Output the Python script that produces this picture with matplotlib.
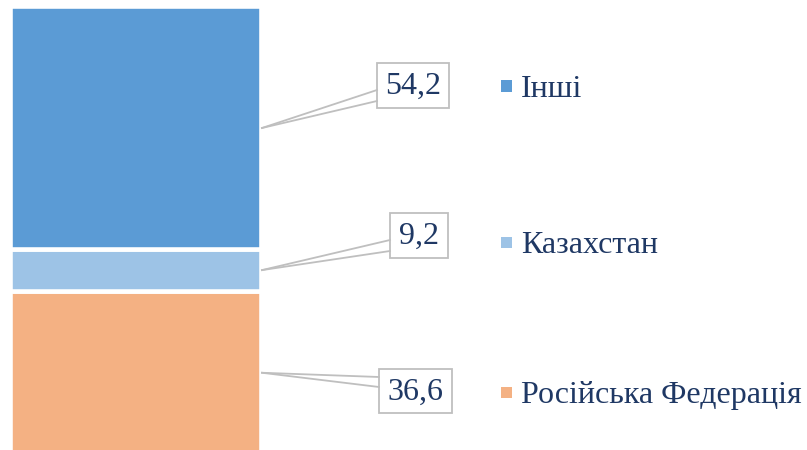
import matplotlib
matplotlib.use("Agg")
import matplotlib.pyplot as plt
from matplotlib.patches import Rectangle
from matplotlib.lines import Line2D

categories = ["Російська Федерація", "Казахстан", "Інші"]
values = [36.6, 9.2, 54.2]
labels = ["36,6", "9,2", "54,2"]
colors = ["#F4B183", "#9DC3E6", "#5B9BD5"]

W, H = 807, 450
fig = plt.figure(figsize=(W / 100, H / 100), dpi=100)
plt.rcParams['font.family'] = ['Liberation Serif', 'DejaVu Serif']
TXT = "#1F3864"
GRAY = "#BFBFBF"

def fx(x):
    return x / W

def fy(y):
    return 1 - y / H

# axes: bar spans pixel x 9.5..261, y 6.5 (100) .. 454.8 (0)
top_px, bot_px = 6.5, 454.8
ax = fig.add_axes([fx(9.5), fy(bot_px), (261 - 9.5) / W, (bot_px - top_px) / H])
ax.set_xlim(-0.5, 0.5)
ax.set_ylim(0, sum(values))
ax.axis("off")

bottom = 0
mids = []
for v, c in zip(values, colors):
    ax.bar(0, v, width=1.0, bottom=bottom, color=c, edgecolor="white",
           linewidth=3.3, clip_on=False)
    mids.append(bottom + v / 2)
    bottom += v

fig.canvas.draw()

# callout boxes in pixel coordinates: (left, right, top, bottom, y1, y2)
boxes = [(379, 452, 369, 413, 377, 387),
         (390, 448, 213, 258, 240, 251),
         (377, 449, 63, 108, 90, 101)]

inv = fig.transFigure.inverted()
for lab, mid, (l, r, t, b, y1, y2) in zip(labels, mids, boxes):
    disp = ax.transData.transform((0.5, mid))
    px_, py_ = inv.transform(disp)
    px_ += 1.0 / W
    for yy in (y1, y2):
        fig.add_artist(Line2D([px_, fx(l)], [py_, fy(yy)], color=GRAY,
                              lw=1.3, transform=fig.transFigure))
    fig.add_artist(Rectangle((fx(l), fy(b)), fx(r) - fx(l), fy(t) - fy(b),
                             facecolor="white", edgecolor=GRAY, lw=1.3,
                             transform=fig.transFigure))
    fig.text(fx((l + r) / 2), fy((t + b) / 2 + 1), lab, ha="center",
             va="center", fontsize=23, color=TXT)

# legend
rows = [392, 242, 86]
for cat, c, yy in zip(categories, colors, rows):
    fig.add_artist(Rectangle((fx(501), fy(yy + 5.5)), 11 / W, 11 / H,
                             facecolor=c, edgecolor="none",
                             transform=fig.transFigure))
    fig.text(fx(521), fy(yy), cat, ha="left", va="center_baseline",
             fontsize=23, color=TXT)

fig.savefig("out.png", dpi=100)
